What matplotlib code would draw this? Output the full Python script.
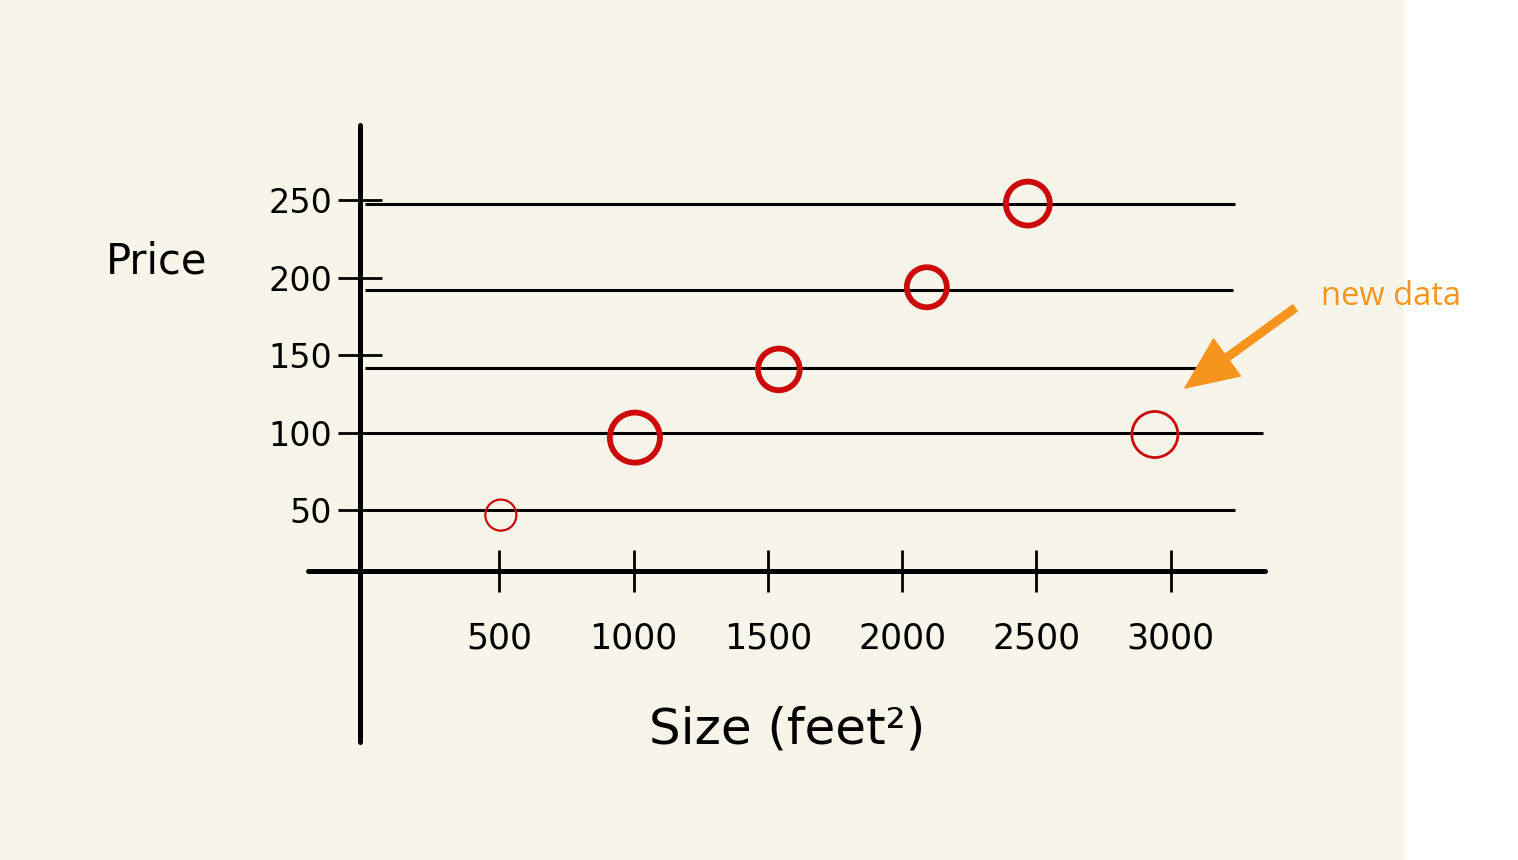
import matplotlib
matplotlib.use('Agg')
import matplotlib.pyplot as plt
from matplotlib.patches import Rectangle

# house size (feet^2) vs price
sizes = [506, 1005, 1541, 2092, 2468]
prices = [47, 97, 141, 194, 248]
new_size = [2941]
new_price = [99]

# horizontal guide lines through each point and where they stop
line_levels = [50, 100, 142, 192, 248]
line_end = [3239, 3343, 3213, 3232, 3239]

x_ticks = [500, 1000, 1500, 2000, 2500, 3000]
x_labels = ['500', '1000', '1500', '2000', '2500', '3000']
y_ticks = [50, 100, 150, 200, 250]
y_labels = ['50', '100', '150', '200', '250']

cream = '#f7f5e9'
red = '#cc0a0a'
orange = '#f7941d'

W, H = 1518, 860
fig = plt.figure(figsize=(W / 100, H / 100), dpi=100, facecolor='white')
# 背景 (右端は白のまま)
fig.add_artist(Rectangle((0, 0), 1404 / W, 1, transform=fig.transFigure,
                         facecolor=cream, edgecolor='none', zorder=0))

ax = fig.add_axes([308 / W, 1 - 742 / H, 957 / W, 617 / H])
ax.set_facecolor('none')
ax.set_xlim(-212, 3351)
ax.set_ylim(-99.4, 298.7)

for side in ['top', 'right']:
    ax.spines[side].set_visible(False)
ax.spines['left'].set_position(('axes', 0.0543))
ax.spines['bottom'].set_position(('axes', 0.277))
for side in ['left', 'bottom']:
    ax.spines[side].set_linewidth(3.6)
    ax.spines[side].set_capstyle('round')

ax.set_xticks(x_ticks)
ax.set_xticklabels(x_labels)
ax.set_yticks(y_ticks)
ax.set_yticklabels(y_labels)
ax.tick_params(axis='x', direction='inout', length=30, width=2, pad=21, labelsize=25)
ax.tick_params(axis='y', direction='inout', length=32, width=2, pad=4, labelsize=24)

ax.hlines(line_levels, 0, line_end, color='black', lw=2.2, zorder=2)

# 既存データ (太めの赤丸)
ax.scatter(sizes, prices, s=[500, 1300, 900, 830, 1000], facecolors='none',
           edgecolors=red, linewidths=[1.6, 4.2, 4.2, 4.2, 4.2], zorder=3)
# 新しいデータ
ax.scatter(new_size, new_price, s=1100, facecolors='none',
           edgecolors=red, linewidths=2, zorder=3)

fig.text(157 / W, 1 - 262 / H, 'Price', ha='center', va='center', fontsize=30)
fig.text(787 / W, 1 - 730 / H, 'Size (feet²)', ha='center', va='center', fontsize=36)
fig.text(1321 / W, 1 - 296 / H, 'new data', ha='left', va='center',
         fontsize=23.5, color=orange, family='Open Sans')

ax.annotate('', xy=(1185 / W, 1 - 388 / H), xycoords='figure fraction',
            xytext=(1295 / W, 1 - 308 / H), textcoords='figure fraction',
            arrowprops=dict(arrowstyle='simple,head_length=1.7,head_width=1.5,tail_width=0.25',
                            color=orange, mutation_scale=22, shrinkA=0, shrinkB=0))

fig.savefig('out.png', dpi=100, facecolor='white')
